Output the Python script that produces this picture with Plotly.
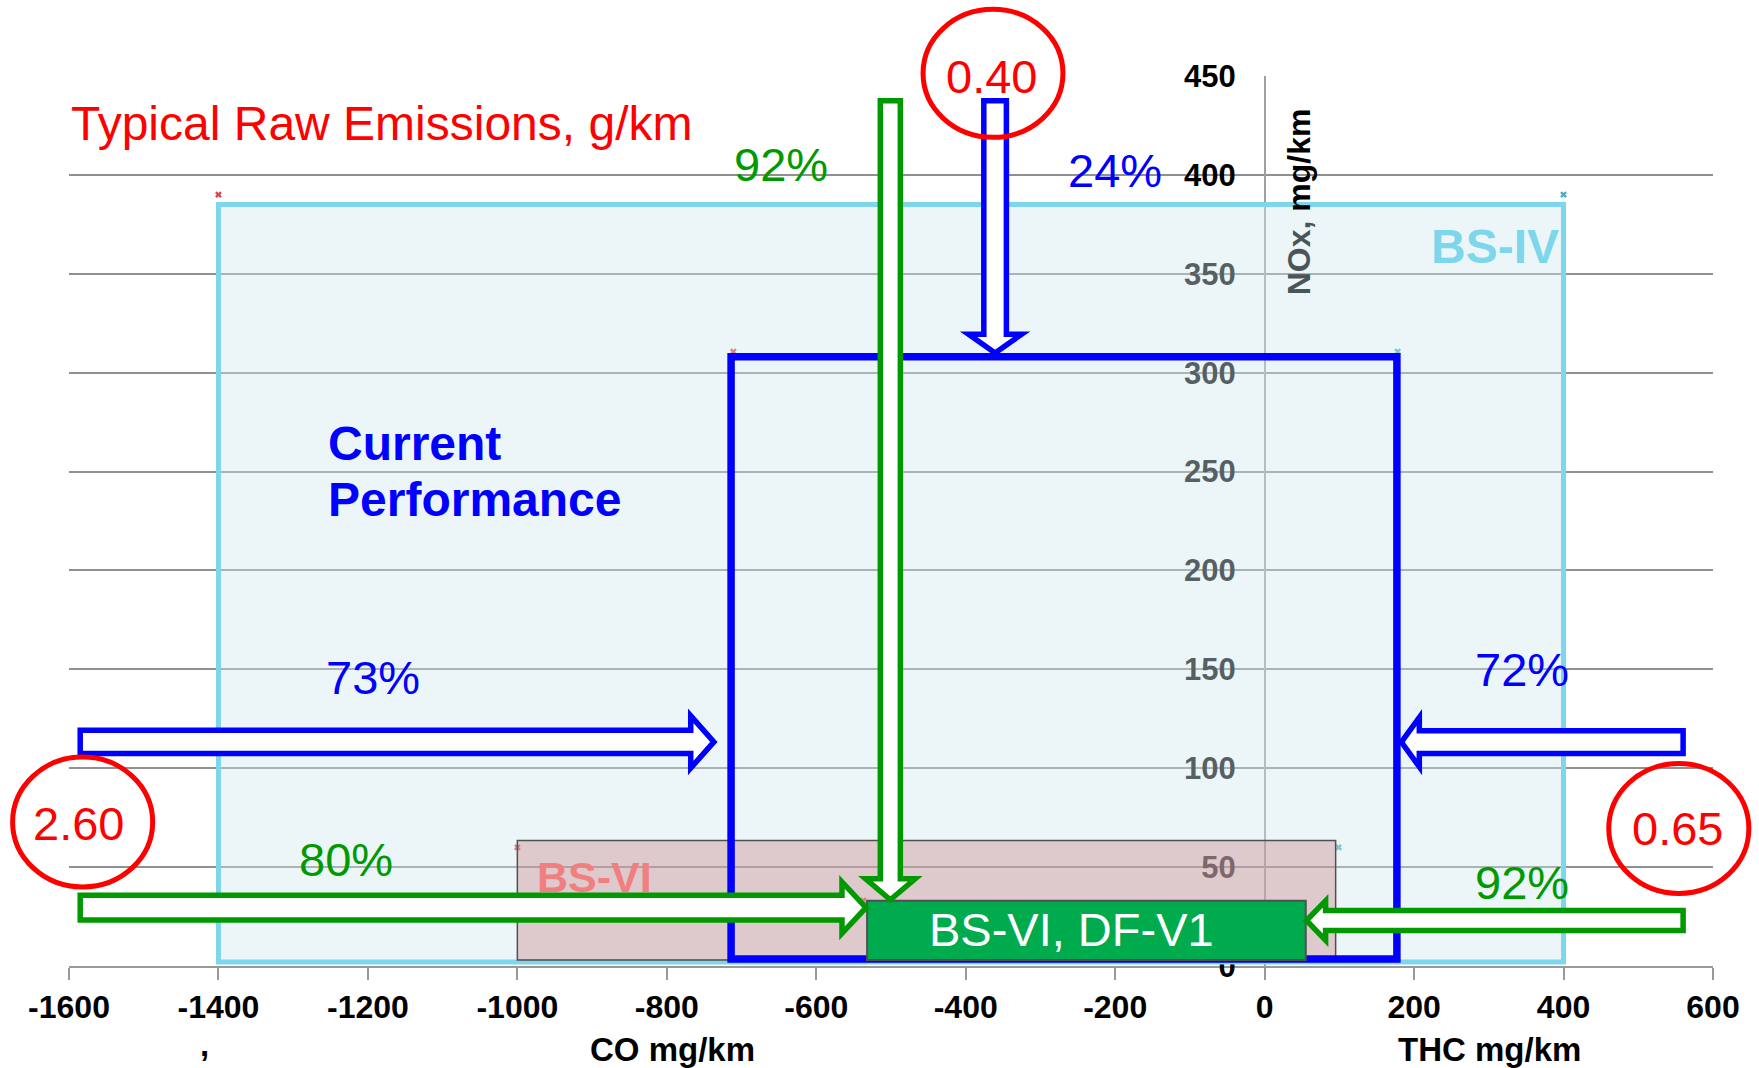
import plotly.graph_objects as go

# ---------------- data ----------------
x_tick_vals = [-1600, -1400, -1200, -1000, -800, -600, -400, -200, 0, 200, 400, 600]
x_tick_text = ["-1600", "-1400", "-1200", "-1000", "-800", "-600", "-400", "-200", "0", "200", "400", "600"]
y_tick_vals = [0, 50, 100, 150, 200, 250, 300, 350, 400, 450]

# emission envelopes: CO on the negative x side, THC on the positive x side, NOx on y
env_names = ["BS-IV", "BS-VI", "Current Performance", "BS-VI, DF-V1"]
env_co = [-1400, -1000, -714, -532]
env_thc = [400, 95, 177, 55]
env_nox = [385, 63.5, 308, 33]
env_base = [2, 3, 3.5, 3]

# series points (small corner markers)
co_pts_x = [-1400, -711, -1000, -537]
co_pts_y = [390, 310.6, 60, 33]
thc_pts_x = [400, 178, 99]
thc_pts_y = [390, 310.6, 60]

raw_labels = ["0.40", "2.60", "0.65"]          # typical raw emissions, g/km
reduction_labels = ["92%", "24%", "73%", "72%", "80%", "92%"]

# ---------------- styles ----------------
FONT = "Liberation Sans, Arial, sans-serif"
BLUE = "#0000FF"
GREEN = "#009A00"
RED = "#FF0000"

fig = go.Figure()

fig.add_trace(go.Scatter(x=co_pts_x, y=co_pts_y, mode="markers", name="CO",
                         marker=dict(symbol="x", size=6, color="#E0404A"), showlegend=False))
fig.add_trace(go.Scatter(x=thc_pts_x, y=thc_pts_y, mode="markers", name="THC",
                         marker=dict(symbol="x", size=6, color="#4BACC6"), showlegend=False))

shapes = []
# BS-IV
shapes.append(dict(type="rect", xref="x", yref="y", x0=env_co[0], x1=env_thc[0], y0=env_base[0], y1=env_nox[0],
                   fillcolor="rgba(208,233,240,0.41)", line=dict(color="#7DD6EB", width=5)))
# BS-VI
shapes.append(dict(type="rect", xref="x", yref="y", x0=env_co[1], x1=env_thc[1], y0=env_base[1], y1=env_nox[1],
                   fillcolor="rgba(198,118,123,0.35)", line=dict(color="#505050", width=1.5)))
# Current performance
shapes.append(dict(type="rect", xref="x", yref="y", x0=env_co[2], x1=env_thc[2], y0=env_base[2], y1=env_nox[2],
                   fillcolor="rgba(0,0,0,0)", line=dict(color=BLUE, width=7.5)))
# BS-VI, DF-V1
shapes.append(dict(type="rect", xref="x", yref="y", x0=env_co[3], x1=env_thc[3], y0=env_base[3], y1=env_nox[3],
                   fillcolor="#00AB4E", line=dict(color="#505050", width=2)))


def h_arrow(x_tail, x_tip, x_base, y_mid, hs, hh):
    p = [(x_tail, y_mid + hs), (x_base, y_mid + hs), (x_base, y_mid + hh), (x_tip, y_mid),
         (x_base, y_mid - hh), (x_base, y_mid - hs), (x_tail, y_mid - hs)]
    return "M " + " L ".join(f"{a},{b}" for a, b in p) + " Z"


def v_arrow(y_tail, y_tip, y_base, x_mid, hs, hh):
    p = [(x_mid - hs, y_tail), (x_mid - hs, y_base), (x_mid - hh, y_base), (x_mid, y_tip),
         (x_mid + hh, y_base), (x_mid + hs, y_base), (x_mid + hs, y_tail)]
    return "M " + " L ".join(f"{a},{b}" for a, b in p) + " Z"


arrows = [
    (h_arrow(-1585, -737, -768, 113.3, 5.9, 13.2), BLUE),
    (h_arrow(560, 183, 207, 113.2, 5.8, 12.5), BLUE),
    (v_arrow(437.5, 310, 319.4, -360.7, 15.1, 35.5), BLUE),
    (v_arrow(437.5, 33.5, 44.1, -500.9, 13.4, 33.2), GREEN),
    (h_arrow(-1585, -533.5, -565.6, 29.5, 6.3, 13.0), GREEN),
    (h_arrow(560, 56, 81.6, 23.0, 5.0, 10.0), GREEN),
]
for path, col in arrows:
    shapes.append(dict(type="path", xref="x", yref="y", path=path, fillcolor="white",
                       line=dict(color=col, width=5.5)))

# red circles (paper coordinates; they reach outside the plot area)
for x0, x1, y0, y1 in [(0.5195, 0.6046, 0.9311, 1.0749),
                       (-0.0343, 0.0509, 0.0888, 0.2348),
                       (0.9366, 1.0218, 0.0816, 0.2276)]:
    shapes.append(dict(type="circle", xref="paper", yref="paper", x0=x0, x1=x1, y0=y0, y1=y1,
                       line=dict(color=RED, width=5), fillcolor="rgba(0,0,0,0)"))

ann = []


def txt(text, x, y, size, color, bold=False, xanchor="center", xref="x", yref="y", angle=0):
    ann.append(dict(text=(f"<b>{text}</b>" if bold else text), x=x, y=y, xref=xref, yref=yref,
                    xanchor=xanchor, yanchor="middle", showarrow=False, textangle=angle,
                    font=dict(family=FONT, size=size, color=color)))


txt("Typical Raw Emissions, g/km", -1600, 425.9, 48, RED, xanchor="left")
txt(reduction_labels[0], -646.8, 405.5, 47, GREEN)
txt(reduction_labels[1], -200.8, 402, 47, BLUE)
txt(reduction_labels[2], -1193.4, 145.9, 47, BLUE)
txt(reduction_labels[3], 344.3, 149.9, 47, BLUE)
txt(reduction_labels[4], -1229.6, 54.1, 47, GREEN)
txt(reduction_labels[5], 344.3, 42.2, 47, GREEN)
txt(raw_labels[0], -365, 449.7, 47, RED)
txt(raw_labels[1], -1587.7, 72.2, 47, RED)
txt(raw_labels[2], 552.2, 69.4, 47, RED)
txt("Current", -1255.8, 264.4, 48, BLUE, bold=True, xanchor="left")
txt("Performance", -1255.8, 236, 48, BLUE, bold=True, xanchor="left")
txt(env_names[0], 308.3, 363.6, 48, "#7DD6EB", bold=True)
txt(env_names[1], -896.3, 45, 43, "#F08080", bold=True)
txt(env_names[3], -257.8, 18.3, 47, "white")
txt("CO mg/km", -791.8, -0.0933, 33, "black", bold=True, yref="paper")
txt("THC mg/km", 301.5, -0.0933, 33, "black", bold=True, yref="paper")
txt(",", -1418.3, -0.088, 33, "black", bold=True, yref="paper")
txt("<span style='color:#4A5558'>NOx, </span>mg/km", 46.2, 386.2, 32, "black", bold=True, angle=-90)

fig.update_layout(
    width=1759, height=1068,
    margin=dict(l=69, r=46, t=76, b=102, autoexpand=False),
    paper_bgcolor="white", plot_bgcolor="white",
    showlegend=False,
    shapes=shapes, annotations=ann,
    font=dict(family=FONT),
    xaxis=dict(range=[-1600, 600], tickvals=x_tick_vals, ticktext=x_tick_text,
               showgrid=False, zeroline=False,
               showline=True, linecolor="#999999", linewidth=2,
               ticks="outside", ticklen=12, tickwidth=2, tickcolor="#999999",
               tickfont=dict(family=FONT, size=32, color="black", weight="bold")),
    yaxis=dict(range=[0, 450], tickvals=y_tick_vals, showgrid=True, gridcolor="#909090", gridwidth=2,
               zeroline=False, anchor="free", position=1600 / 2200, side="left",
               showline=True, linecolor="#A0A0A0", linewidth=1.5, ticks="",
               ticklabelstandoff=22,
               tickfont=dict(family=FONT, size=31, color="black", weight="bold")),
)

fig.write_html("out.html")
